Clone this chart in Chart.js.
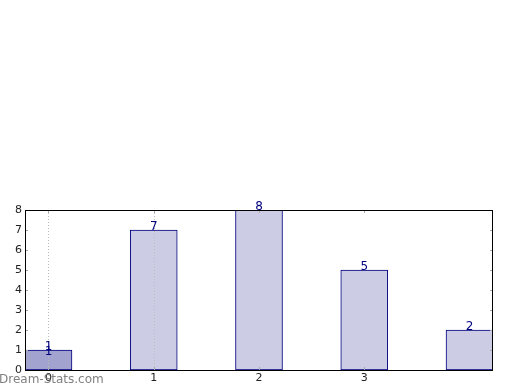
<!DOCTYPE html>
<html>
<head>
<meta charset="utf-8">
<script src="https://cdn.jsdelivr.net/npm/chart.js@4"></script>
<style>
html,body{margin:0;padding:0;background:#fff;}
#wrap{width:520px;height:390px;position:relative;}
</style>
</head>
<body>
<div id="wrap"><canvas id="c" width="520" height="390"></canvas></div>
<script>
const categories = [0, 1, 2, 3, 4];
const counts = [1, 7, 8, 5, 2];
const xTicks = [0, 1, 2, 3];
const yTicks = [0, 1, 2, 3, 4, 5, 6, 7, 8];
const highlightIndex = 0;
const dottedAt = [0, 1];
const watermark = "Dream-Stats.com";

const lightFill = "#ccccE5";
const darkFill = "#a3a3cf";
const navy = "#000080";
const FONT = "DejaVu Sans";

const overlay = {
  id: 'overlay',
  afterDatasetsDraw(chart) {
    const ctx = chart.ctx, xs = chart.scales.x, ys = chart.scales.y, a = chart.chartArea;
    ctx.save();
    ctx.strokeStyle = "#bbbbbb"; ctx.lineWidth = 1; ctx.setLineDash([1, 2]);
    dottedAt.forEach(v => {
      const px = Math.round(xs.getPixelForValue(v)) + 0.5;
      ctx.beginPath(); ctx.moveTo(px, a.top); ctx.lineTo(px, a.bottom); ctx.stroke();
    });
    ctx.setLineDash([]);
    ctx.strokeStyle = "#aaaaaa";
    xTicks.forEach(v => {
      const px = Math.round(xs.getPixelForValue(v)) + 0.5;
      ctx.beginPath(); ctx.moveTo(px, a.bottom); ctx.lineTo(px, a.bottom - 3);
      ctx.moveTo(px, a.top); ctx.lineTo(px, a.top + 3); ctx.stroke();
    });
    yTicks.forEach(v => {
      const py = Math.round(ys.getPixelForValue(v)) + 0.5;
      ctx.beginPath(); ctx.moveTo(a.left, py); ctx.lineTo(a.left + 3, py);
      ctx.moveTo(a.right, py); ctx.lineTo(a.right - 3, py); ctx.stroke();
    });
    ctx.strokeStyle = "#000"; ctx.lineWidth = 1;
    ctx.strokeRect(Math.round(a.left) + 0.5, Math.round(a.top) + 0.5, Math.round(a.right - a.left) - 1, Math.round(a.bottom - a.top));
    ctx.fillStyle = navy; ctx.font = "12px '" + FONT + "'"; ctx.textAlign = "center"; ctx.textBaseline = "bottom";
    categories.forEach((c, i) => {
      const px = xs.getPixelForValue(c), py = ys.getPixelForValue(counts[i]);
      ctx.fillText(String(counts[i]), px, py + 3);
      if (i === highlightIndex) ctx.fillText(String(counts[i]), px, py + 8);
    });
    ctx.restore();
  },
  afterDraw(chart) {
    const ctx = chart.ctx;
    ctx.save();
    ctx.fillStyle = "rgb(128,128,128)";
    ctx.font = "12px '" + FONT + "'";
    ctx.textAlign = "left"; ctx.textBaseline = "middle";
    ctx.fillText(watermark, -1, 380);
    ctx.restore();
  }
};

new Chart(document.getElementById('c'), {
  type: 'bar',
  data: {
    datasets: [{
      data: categories.map((c, i) => ({x: c, y: counts[i]})),
      backgroundColor: categories.map((c, i) => i === highlightIndex ? darkFill : lightFill),
      borderColor: navy,
      borderWidth: 1,
      borderSkipped: false,
      barThickness: 47
    }]
  },
  plugins: [overlay],
  options: {
    responsive: false,
    animation: false,
    devicePixelRatio: 1,
    layout: {padding: {left: 0, top: 210, right: 27, bottom: 0}},
    plugins: {legend: {display: false}, tooltip: {enabled: false}},
    scales: {
      x: {
        type: 'linear', min: -0.223, max: 4.223, offset: false,
        afterFit(s) { s.height = 20; },
        afterBuildTicks(s) { s.ticks = xTicks.map(v => ({value: v})); },
        grid: {display: false, drawTicks: false, offset: false}, border: {display: false},
        ticks: {color: "#222", font: {family: FONT, size: 11}, padding: 2, maxRotation: 0,
          callback: v => String(v)}
      },
      y: {
        min: 0, max: 8,
        afterFit(s) { s.width = 25; },
        afterBuildTicks(s) { s.ticks = yTicks.map(v => ({value: v})); },
        grid: {display: false, drawTicks: false}, border: {display: false},
        ticks: {color: "#222", font: {family: FONT, size: 11}, padding: 3}
      }
    }
  }
});
</script>
</body>
</html>
